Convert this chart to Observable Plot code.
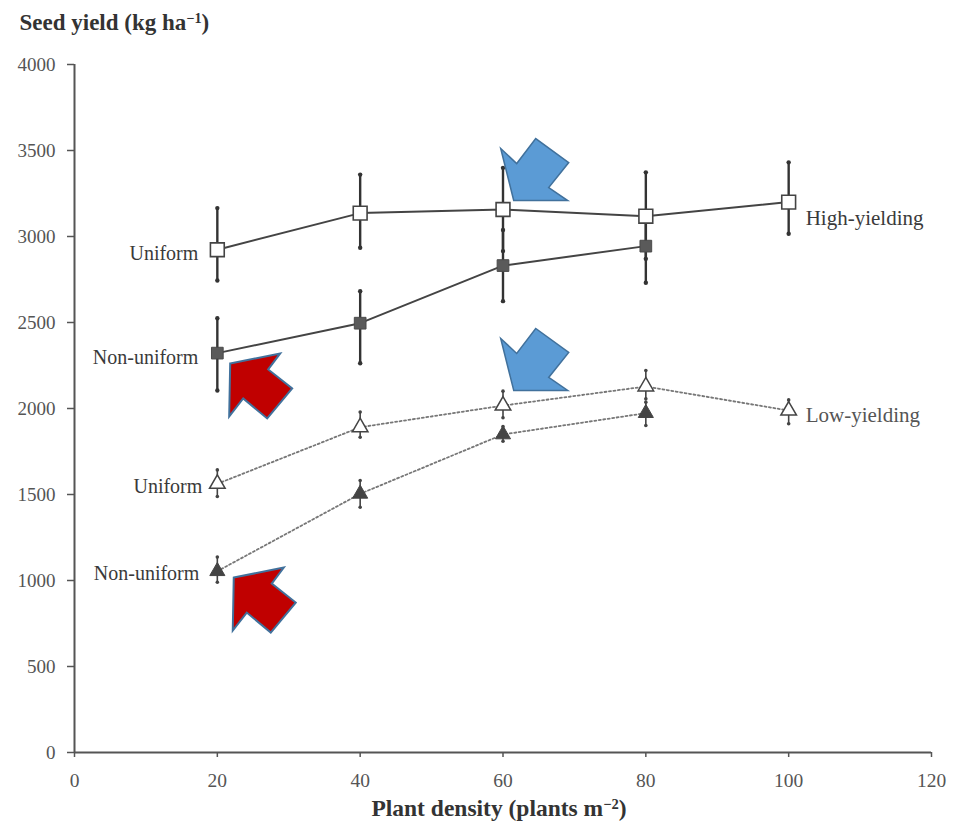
<!DOCTYPE html>
<html>
<head>
<meta charset="utf-8">
<script src="https://cdn.jsdelivr.net/npm/d3@7"></script>
<script src="https://cdn.jsdelivr.net/npm/@observablehq/plot@0.6"></script>
<style>
  html, body { margin: 0; padding: 0; background: #fff; }
  #chart { width: 953px; height: 822px; }
</style>
</head>
<body>
<div id="chart"></div>
<script>
// ---- Data ----
const density = [20, 40, 60, 80, 100];
const xTicks = [0, 20, 40, 60, 80, 100, 120];
const yTicks = [0, 500, 1000, 1500, 2000, 2500, 3000, 3500, 4000];

const hyUniform     = [2923, 3136, 3157, 3118, 3200];
const hyUniformLo   = [2744, 2935, 2915, 2870, 3016];
const hyUniformHi   = [3165, 3360, 3399, 3373, 3431];

const hyNonUniform   = [2322, 2496, 2831, 2944];
const hyNonUniformLo = [2105, 2263, 2624, 2731];
const hyNonUniformHi = [2525, 2682, 3038, 3150];

const lyUniform     = [1562, 1891, 2017, 2128, 1988];
const lyUniformLo   = [1488, 1833, 1946, 2056, 1911];
const lyUniformHi   = [1643, 1979, 2101, 2221, 2050];

const lyNonUniform   = [1054, 1504, 1849, 1973];
const lyNonUniformLo = [990, 1426, 1810, 1901];
const lyNonUniformHi = [1136, 1581, 1895, 2037];

// annotation arrows (tip positions in data units)
const arrowX    = [61.5, 61.5, 21.8, 22.3];
const arrowY    = [3209, 2105, 2262, 1017];
const arrowKind = ["blue", "blue", "red", "red"];

// ---- Build tables ----
function rows(vals, lo, hi) {
  return vals.map((v, i) => ({x: density[i], y: v, lo: lo[i], hi: hi[i]}));
}
const HU = rows(hyUniform, hyUniformLo, hyUniformHi);
const HN = rows(hyNonUniform, hyNonUniformLo, hyNonUniformHi);
const LU = rows(lyUniform, lyUniformLo, lyUniformHi);
const LN = rows(lyNonUniform, lyNonUniformLo, lyNonUniformHi);
const arrows = arrowX.map((x, i) => ({x, y: arrowY[i], kind: arrowKind[i]}));

function polySymbol(pts) {
  return {
    draw(ctx) {
      ctx.moveTo(pts[0][0], pts[0][1]);
      for (let i = 1; i < pts.length; i++) ctx.lineTo(pts[i][0], pts[i][1]);
      ctx.closePath();
    }
  };
}
const blueArrow = polySymbol([[0,0],[-13,-52],[3,-37],[22,-62],[55,-38],[35,-13],[54,0]]);
const redArrow  = polySymbol([[0,0],[50,-10],[38,6],[62,25],[37,55],[13,35],[-1,53]]);

const serif = "'Liberation Serif', 'Times New Roman', serif";
const ink = "#3a3a3a";

const chart = Plot.plot({
  width: 953,
  height: 822,
  marginLeft: 74,
  marginRight: 22,
  marginTop: 64,
  marginBottom: 70,
  style: {fontFamily: serif, background: "#fff", color: ink},
  x: {domain: [0, 120]},
  y: {domain: [0, 4000]},
  marks: [
    Plot.axisY({ticks: yTicks, tickSize: 7, tickPadding: 12, tickFormat: d => String(d),
      fontSize: 19, color: "#555", label: null, strokeWidth: 1.5}),
    Plot.axisX({ticks: xTicks, tickSize: 5, tickPadding: 16, tickFormat: d => String(d),
      fontSize: 19.5, color: "#555", label: null, strokeWidth: 1.5}),
    Plot.ruleX([0], {stroke: "#555", strokeWidth: 2}),
    Plot.ruleY([0], {stroke: "#555", strokeWidth: 2}),

    // lines
    Plot.line(LU, {x: "x", y: "y", stroke: "#777", strokeWidth: 1.8, strokeDasharray: "2,2.5"}),
    Plot.line(LN, {x: "x", y: "y", stroke: "#777", strokeWidth: 1.8, strokeDasharray: "2,2.5"}),
    Plot.line(HU, {x: "x", y: "y", stroke: "#444", strokeWidth: 2}),
    Plot.line(HN, {x: "x", y: "y", stroke: "#444", strokeWidth: 2}),

    // error bars
    Plot.ruleX(HU, {x: "x", y1: "lo", y2: "hi", stroke: "#333", strokeWidth: 2.4}),
    Plot.ruleX(HN, {x: "x", y1: "lo", y2: "hi", stroke: "#333", strokeWidth: 2.4}),
    Plot.ruleX(LU, {x: "x", y1: "lo", y2: "hi", stroke: "#444", strokeWidth: 1.6}),
    Plot.ruleX(LN, {x: "x", y1: "lo", y2: "hi", stroke: "#444", strokeWidth: 1.6}),
    Plot.dot([...HU, ...HN], {x: "x", y: "lo", r: 2.2, fill: "#333"}),
    Plot.dot([...HU, ...HN], {x: "x", y: "hi", r: 2.2, fill: "#333"}),
    Plot.dot([...LU, ...LN], {x: "x", y: "lo", r: 1.8, fill: "#444"}),
    Plot.dot([...LU, ...LN], {x: "x", y: "hi", r: 1.8, fill: "#444"}),

    // markers
    Plot.dot(HU, {x: "x", y: "y", symbol: "square", r: 7.8, fill: "#fff", stroke: "#444", strokeWidth: 1.6}),
    Plot.dot(HN, {x: "x", y: "y", symbol: "square", r: 6.6, fill: "#5a5a5a", stroke: "#4a4a4a", strokeWidth: 1}),
    Plot.dot(LU, {x: "x", y: "y", symbol: "triangle", r: 5.8, fill: "#fff", stroke: "#444", strokeWidth: 1.5}),
    Plot.dot(LN, {x: "x", y: "y", symbol: "triangle", r: 5.6, fill: "#444", stroke: "#444", strokeWidth: 1}),

    // series labels
    Plot.text([HU[0]], {x: "x", y: "y", text: () => "Uniform", textAnchor: "end", dx: -19, dy: 4, fontSize: 20, fill: ink}),
    Plot.text([HN[0]], {x: "x", y: "y", text: () => "Non-uniform", textAnchor: "end", dx: -19, dy: 4, fontSize: 20, fill: ink}),
    Plot.text([LU[0]], {x: "x", y: "y", text: () => "Uniform", textAnchor: "end", dx: -15, dy: 3, fontSize: 20, fill: ink}),
    Plot.text([LN[0]], {x: "x", y: "y", text: () => "Non-uniform", textAnchor: "end", dx: -18, dy: 2, fontSize: 20, fill: ink}),
    Plot.text([HU[HU.length - 1]], {x: "x", y: "y", text: () => "High-yielding", textAnchor: "start", dx: 17, dy: 16, fontSize: 21, fill: ink}),
    Plot.text([LU[LU.length - 1]], {x: "x", y: "y", text: () => "Low-yielding", textAnchor: "start", dx: 17, dy: 5, fontSize: 21, fill: "#555"}),

    // axis titles
    Plot.text(["Seed yield (kg ha-1)"], {frameAnchor: "top-left", textAnchor: "start", lineAnchor: "middle",
      dx: -55, dy: -42, fontSize: 23, fontWeight: "bold", fill: "#333"}),
    Plot.text(["Plant density (plants m-2)"], {frameAnchor: "bottom", textAnchor: "middle", lineAnchor: "middle",
      dx: -4, dy: 56, fontSize: 23.5, fontWeight: "bold", fill: "#333"}),

    // annotation arrows
    Plot.dot(arrows.filter(d => d.kind === "blue"), {x: "x", y: "y", symbol: blueArrow, fill: "#5B9BD5", stroke: "#41719C", strokeWidth: 1.5}),
    Plot.dot(arrows.filter(d => d.kind === "red"), {x: "x", y: "y", symbol: redArrow, fill: "#C00000", stroke: "#41719C", strokeWidth: 2})
  ]
});

// superscripts in axis titles
d3.select(chart).selectAll("text").each(function() {
  const t = this.textContent;
  const m = t.match(/^(.*\()(.*?)(-\d)(\))$/);
  if (m && (t.startsWith("Seed") || t.startsWith("Plant"))) {
    const sel = d3.select(this);
    sel.text(null);
    sel.append("tspan").text(m[1] + m[2]);
    sel.append("tspan").attr("dy", "-0.45em").attr("font-size", "0.62em").text(m[3].replace("-", "\u2212"));
    sel.append("tspan").attr("dy", "0.28em").text(m[4]);
  }
});

document.getElementById("chart").appendChild(chart);
</script>
</body>
</html>
